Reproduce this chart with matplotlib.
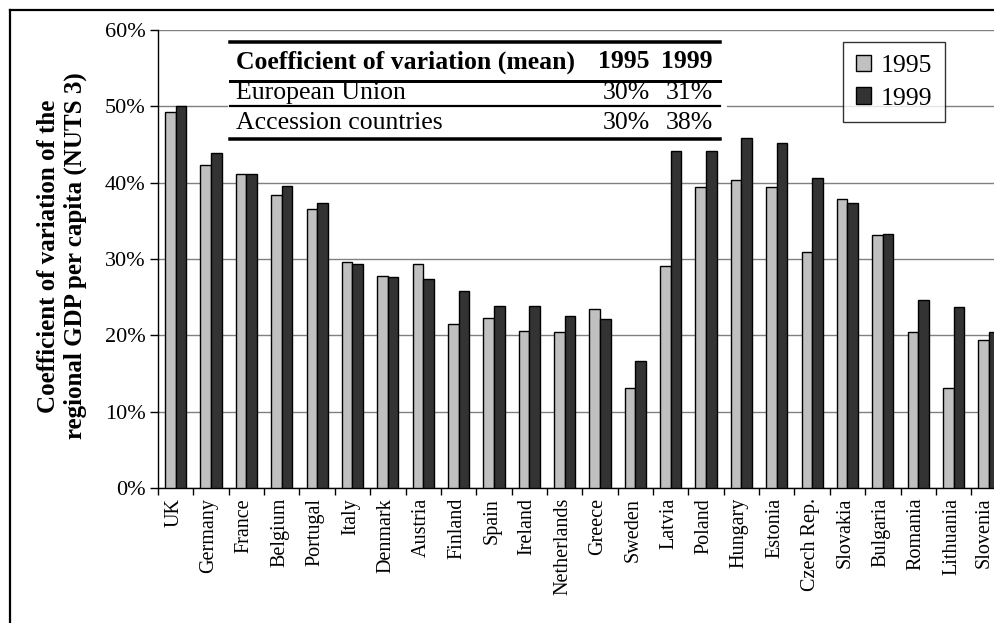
import matplotlib
matplotlib.use("Agg")
import matplotlib.pyplot as plt
import numpy as np
from matplotlib.lines import Line2D
from matplotlib.patches import Rectangle
from matplotlib.ticker import PercentFormatter, NullFormatter
from matplotlib.transforms import ScaledTranslation, blended_transform_factory

plt.rcParams["font.family"] = ["Liberation Serif", "DejaVu Serif"]

countries = ["UK", "Germany", "France", "Belgium", "Portugal", "Italy", "Denmark",
             "Austria", "Finland", "Spain", "Ireland", "Netherlands", "Greece",
             "Sweden", "Latvia", "Poland", "Hungary", "Estonia", "Czech Rep.",
             "Slovakia", "Bulgaria", "Romania", "Lithuania", "Slovenia"]
cv_1995 = [49.3, 42.3, 41.1, 38.4, 36.6, 29.6, 27.8, 29.3, 21.5, 22.3, 20.6, 20.5,
           23.4, 13.1, 29.1, 39.4, 40.4, 39.4, 30.9, 37.9, 33.1, 20.5, 13.1, 19.4]
cv_1999 = [50.0, 43.9, 41.1, 39.5, 37.3, 29.3, 27.6, 27.4, 25.8, 23.8, 23.8, 22.5,
           22.1, 16.6, 44.2, 44.2, 45.9, 45.2, 40.6, 37.3, 33.3, 24.6, 23.7, 20.5]
years = ["1995", "1999"]

table_header = ["Coefficient of variation (mean)", "1995", "1999"]
table_rows = [["European Union", "30%", "31%"],
              ["Accession countries", "30%", "38%"]]

W, H = 995, 623
fig = plt.figure(figsize=(W / 100, H / 100), dpi=100)


def fx(x):
    return x / W


def fy(y):
    return 1 - y / H


ax_left, ax_right, ax_top, ax_bottom = 158, 1006.6, 30, 488
ax = fig.add_axes([fx(ax_left), fy(ax_bottom), fx(ax_right - ax_left),
                   (ax_bottom - ax_top) / H])

x = np.arange(len(countries))
bw = 0.30
b1 = ax.bar(x - bw / 2, cv_1995, bw, color="#c0c0c0", edgecolor="black",
            linewidth=1.0, zorder=3, label=years[0])
b2 = ax.bar(x + bw / 2, cv_1999, bw, color="#333333", edgecolor="black",
            linewidth=1.0, zorder=3, label=years[1])

ax.set_xlim(-0.5, len(countries) - 0.5)
ax.set_ylim(0, 60)
ax.set_yticks(np.arange(0, 61, 10))
ax.yaxis.set_major_formatter(PercentFormatter(decimals=0))
ax.grid(axis="y", color="#808080", linewidth=1.0, zorder=0)
ax.set_axisbelow(True)

# category separators as ticks; category names as rotated texts below the axis
ax.set_xticks(np.arange(-0.5, len(countries), 1.0))
ax.xaxis.set_major_formatter(NullFormatter())
ax.tick_params(axis="x", length=5, width=1, direction="out")
ax.tick_params(axis="y", length=6, width=1, direction="out", labelsize=16, pad=3)
xlab_tr = blended_transform_factory(ax.transData, ax.transAxes)
for i, name in enumerate(countries):
    dx = -5 if i == len(countries) - 1 else -2   # keep the last name inside the figure
    ax.text(x[i], 0, name, rotation=90, ha="center", va="top", fontsize=14.5,
            transform=xlab_tr + ScaledTranslation(dx / 100, -10 / 100, fig.dpi_scale_trans),
            clip_on=False)

for s in ["top", "right"]:
    ax.spines[s].set_visible(False)
for s in ["left", "bottom"]:
    ax.spines[s].set_linewidth(1.0)
    ax.spines[s].set_color("black")

fig.text(fx(62), fy(256), "Coefficient of variation of the\nregional GDP per capita (NUTS 3)",
         rotation=90, ha="center", va="center", fontsize=18, fontweight="bold",
         linespacing=1.2)

# summary table drawn on a white panel
fig.add_artist(Rectangle((fx(228), fy(142)), fx(727 - 228), (142 - 40) / H,
                         facecolor="white", edgecolor="none", zorder=4,
                         transform=fig.transFigure))
for yy, lw in [(42, 3.5), (81, 3.0), (106, 2.2), (139, 3.5)]:
    fig.add_artist(Line2D([fx(230), fx(720)], [fy(yy), fy(yy)], color="black",
                          linewidth=lw * 0.72, zorder=5, transform=fig.transFigure))

col_x = [236, 650, 713]
row_y = [62, 93, 123]
fig.text(fx(col_x[0]), fy(row_y[0]), table_header[0], ha="left", va="center",
         fontsize=18.5, fontweight="bold", zorder=6)
for j in (1, 2):
    fig.text(fx(col_x[j]), fy(row_y[0]), table_header[j], ha="right", va="center",
             fontsize=18.5, fontweight="bold", zorder=6)
for i, row in enumerate(table_rows):
    fig.text(fx(col_x[0]), fy(row_y[i + 1]), row[0], ha="left", va="center",
             fontsize=18.5, zorder=6)
    for j in (1, 2):
        fig.text(fx(col_x[j]), fy(row_y[i + 1]), row[j], ha="right", va="center",
                 fontsize=18.5, zorder=6)

leg = fig.legend(handles=[b1, b2], labels=years, loc="upper left",
                 bbox_to_anchor=(fx(843), fy(42)), bbox_transform=fig.transFigure,
                 fontsize=18.5, frameon=True, fancybox=False, shadow=False,
                 handlelength=0.6, handleheight=0.6, handletextpad=0.35,
                 labelspacing=0.4, borderpad=0.5, borderaxespad=0)
leg.get_frame().set_edgecolor("black")
leg.get_frame().set_linewidth(1.0)

# outer chart border (left and top edges visible)
fig.add_artist(Line2D([fx(9.5), fx(9.5)], [0, fy(9.5)], color="black",
                      linewidth=1.6, transform=fig.transFigure))
fig.add_artist(Line2D([fx(9.5), 1], [fy(9.5), fy(9.5)], color="black",
                      linewidth=1.6, transform=fig.transFigure))

fig.savefig("out.png", dpi=100)
